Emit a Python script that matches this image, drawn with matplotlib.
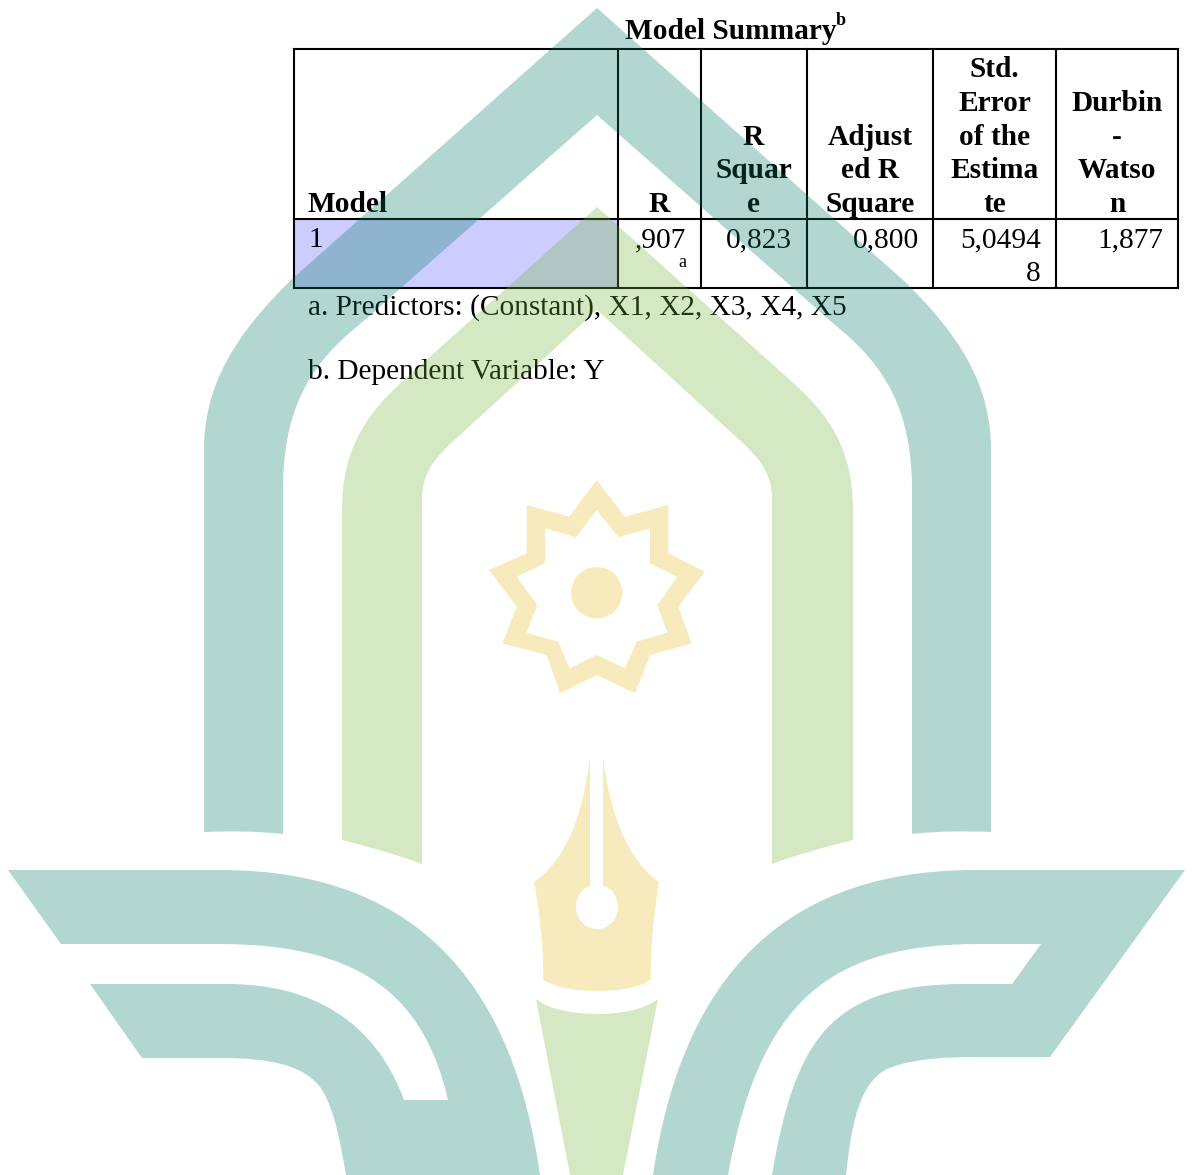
import matplotlib
matplotlib.use("Agg")
import matplotlib.pyplot as plt
from matplotlib.path import Path
from matplotlib.patches import PathPatch, Rectangle, Circle

plt.rcParams['font.family'] = ['Liberation Serif', 'DejaVu Serif']

# table contents
title = "Model Summary"
header_r = ["R"]
header_model = ["Model"]
header_rsq = ["R", "Squar", "e"]
header_adj = ["Adjust", "ed R", "Square"]
header_std = ["Std.", "Error", "of the", "Estima", "te"]
header_dw = ["Durbin", "-", "Watso", "n"]
headers = [header_model, header_r, header_rsq, header_adj, header_std, header_dw]
row_model = "1"
row_r = ",907"
row_rsq = "0,823"
row_adj = "0,800"
row_std = ["5,0494", "8"]
row_dw = "1,877"
notes = ["a. Predictors: (Constant), X1, X2, X3, X4, X5", "b. Dependent Variable: Y"]

# column edges and row edges of the table, in pixels
col_edges = [294, 618, 701, 807, 933, 1056, 1178]
row_edges = [49, 219, 288]
line_h = 33.7
fs = 21.2

TEAL = "#027D66"
GREEN = "#73B93B"
YELLOW = "#E5BF2A"
WM_ALPHA = 0.3

fig = plt.figure(figsize=(11.92, 11.75), dpi=100)
ax = fig.add_axes([0, 0, 1, 1])
ax.set_xlim(0, 1192)
ax.set_ylim(1175, 0)
ax.axis('off')

# row highlight and grid
ax.add_patch(Rectangle((col_edges[0], row_edges[1]), col_edges[1] - col_edges[0],
                       row_edges[2] - row_edges[1], fc="#CCCCFF", ec="none", zorder=1))
for x in col_edges:
    ax.plot([x, x], [row_edges[0], row_edges[2]], color="black", lw=1.5, zorder=2,
            solid_capstyle='projecting')
for y in row_edges:
    ax.plot([col_edges[0], col_edges[-1]], [y, y], color="black", lw=1.5, zorder=2,
            solid_capstyle='projecting')

# title
ax.text(730.5, 39, title, fontsize=fs, fontweight='bold', ha='center', va='baseline', zorder=3)
ax.text(836, 25, "b", fontsize=13, fontweight='bold', ha='left', va='baseline', zorder=3)

# header, bottom aligned
base = 212
ax.text(308, base, headers[0][0], fontsize=fs, fontweight='bold', ha='left', va='baseline', zorder=3)
centers = [659.5, 753.5, 870, 994.5, 1117]
for cx, lines in zip(centers, headers[1:]):
    for i, s in enumerate(reversed(lines)):
        ax.text(cx, base - i * line_h, s, fontsize=fs, fontweight='bold', ha='center',
                va='baseline', zorder=3)

# data row
val_y = 247
ax.text(308, val_y, row_model, fontsize=fs, ha='left', va='baseline', zorder=3)
ax.text(686, val_y, row_r, fontsize=fs, ha='right', va='baseline', zorder=3)
ax.text(686, 267, "a", fontsize=13, ha='right', va='baseline', zorder=3)
ax.text(792, val_y, row_rsq, fontsize=fs, ha='right', va='baseline', zorder=3)
ax.text(919, val_y, row_adj, fontsize=fs, ha='right', va='baseline', zorder=3)
ax.text(1041, val_y, row_std[0], fontsize=fs, ha='right', va='baseline', zorder=3)
ax.text(1041, val_y + line_h, row_std[1], fontsize=fs, ha='right', va='baseline', zorder=3)
ax.text(1163, val_y, row_dw, fontsize=fs, ha='right', va='baseline', zorder=3)

# footnotes
ax.text(308, 315, notes[0], fontsize=fs, ha='left', va='baseline', zorder=3)
ax.text(308, 379, notes[1], fontsize=fs, ha='left', va='baseline', zorder=3)


# watermark helper: a point is a line, three points are a bezier segment
def make_path(start, segs):
    verts = [start]
    codes = [Path.MOVETO]
    for s in segs:
        if len(s) == 1:
            verts.append(s[0])
            codes.append(Path.LINETO)
        else:
            verts.extend(s)
            codes.extend([Path.CURVE4] * 3)
    verts.append(start)
    codes.append(Path.CLOSEPOLY)
    return verts, codes


def add_shape(parts, color):
    verts, codes = [], []
    for start, segs in parts:
        v, c = make_path(start, segs)
        verts += v
        codes += c
    ax.add_patch(PathPatch(Path(verts, codes), fc=color, ec="none", alpha=WM_ALPHA, zorder=5))


# outer teal arch
add_shape([((597, 8), [
    [(903, 280)], [(960, 335), (991, 385), (991, 450)], [(991, 832)],
    [(965, 831), (938, 831), (912, 834)], [(912, 490)], [(912, 410), (885, 365), (835, 325)],
    [(597, 115)], [(359, 325)], [(309, 365), (283, 410), (283, 490)], [(283, 834)],
    [(256, 831), (230, 831), (204, 832)], [(204, 450)], [(204, 385), (235, 335), (291, 280)],
])], TEAL)

# inner green arch
add_shape([((597, 207), [
    [(790, 380)], [(830, 415), (853, 450), (853, 510)], [(853, 840)],
    [(825, 847), (795, 855), (772, 864)], [(772, 500)], [(772, 475), (762, 462), (745, 445)],
    [(597, 310)], [(449, 445)], [(432, 462), (422, 475), (422, 500)], [(422, 864)],
    [(399, 855), (369, 847), (342, 840)], [(342, 510)], [(342, 450), (365, 415), (404, 380)],
])], GREEN)

# left wing
add_shape([((8, 870), [
    [(220, 870)], [(430, 870), (515, 1000), (540, 1175)], [(346, 1175)],
    [(340, 1140), (335, 1115), (325, 1095)], [(310, 1065), (270, 1058), (220, 1058)],
    [(142, 1058)], [(90, 984)], [(228, 984)], [(310, 984), (375, 1020), (404, 1100)],
    [(448, 1100)], [(425, 1000), (365, 944), (220, 944)], [(61, 944)],
])], TEAL)

# right wing
add_shape([((1185, 870), [
    [(975, 870)], [(764, 870), (679, 1000), (653, 1175)], [(728, 1175)],
    [(760, 1000), (830, 944), (980, 944)], [(1041, 944)], [(1012, 984)], [(965, 984)],
    [(830, 984), (795, 1040), (772, 1175)], [(846, 1175)],
    [(852, 1120), (860, 1085), (885, 1070)], [(905, 1060), (940, 1057), (975, 1057)],
    [(1050, 1057)],
])], TEAL)

# pen nib, the slit runs down into the round hole
add_shape([((590, 757), [
    [(582, 820), (565, 860), (534, 882)], [(540, 915), (544, 950), (543, 979)],
    [(560, 995), (634, 995), (651, 979)], [(650, 950), (654, 915), (659, 882)],
    [(629, 860), (611, 820), (603, 757)], [(603, 886)],
    [(612, 888), (618, 897), (618, 907)], [(618, 919), (609, 929), (597, 929)],
    [(585, 929), (576, 919), (576, 907)], [(576, 897), (582, 888), (590, 886)],
])], YELLOW)

# green blade under the nib
add_shape([((536, 999), [
    [(560, 1019), (634, 1019), (658, 999)], [(623, 1175)], [(570, 1175)],
])], GREEN)

# nine pointed star
star_outer = [(380, 60), (465, 170), (595, 135), (595, 280), (705, 335), (625, 440), (665, 550),
              (540, 585), (495, 700), (380, 645), (270, 700), (230, 585), (97, 550), (140, 440),
              (57, 330), (170, 280), (170, 135), (298, 170)]
star_inner = [(380, 150), (318, 232), (225, 205), (225, 310), (140, 350), (202, 435), (170, 518),
              (265, 545), (298, 625), (380, 585), (465, 625), (500, 545), (592, 518), (562, 435),
              (622, 350), (540, 310), (540, 205), (445, 232)]


def star_px(pts):
    return [(470 + px / 3, 460 + py / 3) for px, py in pts]


o = star_px(star_outer)
i_ = star_px(star_inner)
add_shape([(o[0], [[p] for p in o[1:]]), (i_[0], [[p] for p in i_[1:]])], YELLOW)
ax.add_patch(Circle((596.7, 592.7), 25.7, fc=YELLOW, ec="none", alpha=WM_ALPHA, zorder=5))

fig.savefig("out.png", dpi=100)
